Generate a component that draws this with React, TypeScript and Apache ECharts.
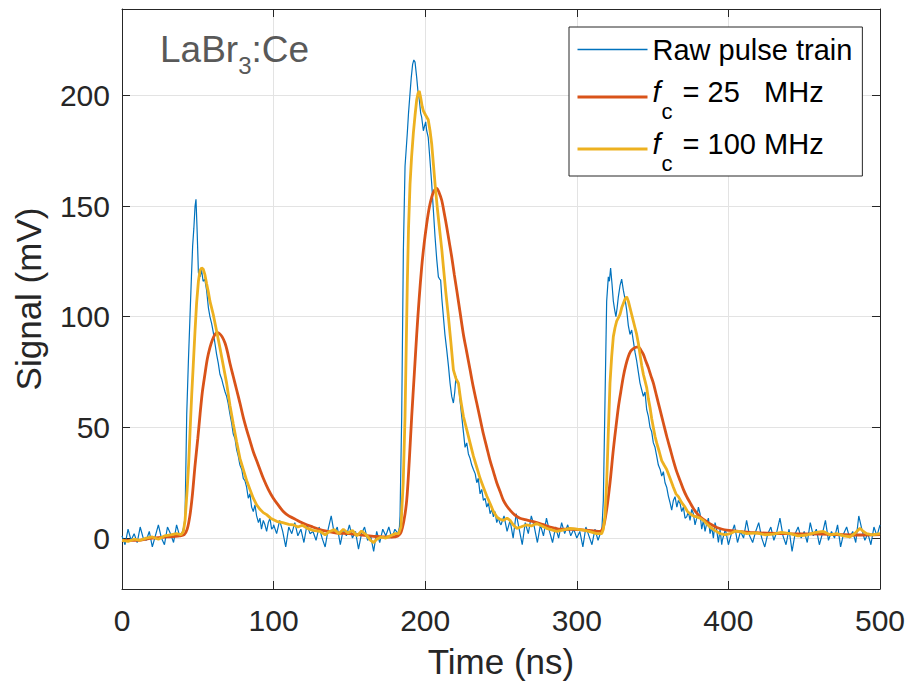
import React, { useEffect, useRef } from 'react';
import * as echarts from 'echarts';

const FONT = '"Liberation Sans", Arial, Helvetica, sans-serif';

const xTickValues = [0, 100, 200, 300, 400, 500];
const yTickValues = [0, 50, 100, 150, 200];
const xRange = [0, 500];
const yRange = [-23, 239];

const seriesNames = ['Raw pulse train', 'fc = 25 MHz', 'fc = 100 MHz'];
const seriesColors = ['#0072BD', '#D95319', '#EDB120'];

// Raw pulse train [time ns, signal mV]
const rawPulse: [number, number][] = [
  [0, 1], [2, -3], [4, 4], [6, -1], [8, 2], [10, -2], [12, 5], [14, 0], [16, -1], [18, 3], [20, -4], [22, 1], [24, 6], [26, 0], [28, -3], [30, 5], [32, 2], [34, -2], [36, 6], [38, 1], [40, 3],
  [41, 6], [41.6, 10], [42.7, 56], [43.8, 80], [44.9, 101], [45.8, 118], [46.6, 132], [47.4, 140], [48.2, 150], [48.8, 153], [49.5, 140], [50.4, 120], [51.5, 118], [52.5, 121], [53.5, 116], [54.6, 117], [55.8, 112], [57, 104], [58, 100], [59.1, 97], [60.2, 93], [61.3, 88], [62.4, 83], [63.5, 79], [64.6, 74], [65.7, 72], [66.8, 69], [68, 66], [69, 64], [70, 61], [71.2, 56], [72.3, 52], [73.4, 47], [74.5, 45], [75.6, 40], [76.7, 37], [77.8, 33], [79, 31], [80, 27], [81.1, 26], [82.2, 23], [83.3, 18], [84.4, 20], [85.5, 14], [86.6, 12], [87.7, 15], [88.8, 10], [90, 7], [91, 9], [92, 4], [93.2, 8], [94.3, 6], [95.4, 3], [96.5, 7], [97.6, 9], [98.7, 4], [99.8, 5],
  [100, 6], [102, 2], [104, 8], [106, 3], [108, -4], [110, 5], [112, 2], [114, 7], [116, 1], [118, 4], [120, -2], [122, 6], [124, 2], [126, 3], [128, -1], [130, 5], [132, 0], [134, -4], [136, 4], [138, 10], [140, 2], [142, 5], [144, -3], [146, 4], [148, 1], [150, 6], [152, 0], [154, 3], [156, -5], [158, 2], [160, 5], [162, -1], [164, 1], [166, -6], [168, 3], [170, -2], [172, 4], [174, 1], [176, 5], [178, 0], [180, 4], [182, 2],
  [183, 5], [183.4, 10], [184.5, 55], [185.6, 130], [186.7, 168], [188.2, 183], [189, 192], [190, 201], [190.8, 208], [191.7, 214], [192.5, 216], [193.3, 215], [194.4, 208], [195.2, 202], [196.1, 198], [197, 192], [197.7, 190], [198.8, 184], [199.5, 186], [200.3, 188], [201, 184], [202, 181], [203, 172], [204.3, 160], [205.4, 148], [206.5, 136], [207.6, 126], [208.7, 118], [209.5, 117], [210.2, 116.5], [211, 108], [212, 100], [213, 92], [214.2, 85], [215.3, 78], [216.4, 70], [217.5, 64], [218.6, 61], [219.5, 66], [220.3, 73], [221.1, 70], [221.9, 70], [223, 62], [224.1, 55], [225.2, 48], [226.3, 41], [227.4, 43], [228.5, 38], [229.6, 36], [230.7, 33], [231.8, 31], [233, 29], [234, 25], [235, 27], [236.2, 20], [237.3, 22], [238.4, 17], [239.5, 18], [240.6, 14], [241.7, 16], [242.8, 11], [244, 13], [245, 9.6], [246, 12], [247.2, 7], [248.3, 9], [249.4, 6.6],
  [250, 6], [252, 10], [254, 3], [256, 8], [258, 0], [260, 11], [262, 4], [264, -3], [266, 7], [268, 2], [270, 10], [272, 5], [274, -2], [276, 6], [278, 1], [280, 9], [282, 3], [284, -2], [286, 5], [288, 0], [290, 7], [292, 2], [294, 6], [296, 1], [298, 4], [300, 0], [302, 3], [304, -4], [306, 5], [308, 1], [310, -3], [312, 4], [314, -1], [316, 3],
  [316.4, 2], [317.5, 17], [318.6, 62], [319.7, 107], [320.8, 118], [321.5, 116], [322.3, 122], [323.2, 115], [324.1, 107], [325, 103], [325.8, 100], [326.6, 104], [327.4, 109], [328.5, 114], [329.6, 117], [330.7, 112], [331.8, 108], [332.9, 103], [334, 96], [335.1, 92], [336.2, 94], [337.3, 89], [338.4, 84], [339.5, 80], [340.6, 75], [341.7, 70], [342.8, 67], [343.9, 64], [345, 66], [346.1, 58], [347.2, 55], [348.3, 50], [349.4, 48], [350.5, 43], [351.6, 41], [352.7, 37], [353.8, 33], [355, 31], [356, 28], [357.1, 30], [358.2, 25], [359.3, 23], [360.4, 19], [361.5, 16], [362.6, 12.6], [363.7, 17], [364.8, 18.7], [366, 14], [367, 17], [368.1, 15.7], [369.2, 12], [370.3, 14], [371.4, 9], [372.5, 9.6], [373.6, 12], [374.7, 8], [375.8, 13], [376.9, 11], [378, 6], [379.1, 9], [380.2, 14], [381.3, 11], [382.4, 4], [383.5, 8], [384.6, 3], [385.7, 6.6], [386.8, 9], [387.9, 2], [389, 5], [390.1, 0], [391.2, 7], [392.3, 3.6], [393.4, -2], [394.5, 4], [395.6, -3],
  [396, -1], [398, 4], [400, -3], [402, 2], [404, 6], [406, -2], [408, 3], [410, 0], [412, 8], [414, 1], [416, -2], [418, 3], [420, 7], [422, 0], [424, -4], [426, 2], [428, 5], [430, -1], [432, 3], [434, 9], [436, 1], [438, -3], [440, 4], [442, -6], [444, 2], [446, 5], [448, 0], [450, 3], [452, -2], [454, 7], [456, 1], [458, 4], [460, -3], [462, 2], [464, 8], [466, -1], [468, 3], [470, 0], [472, 6], [474, -4], [476, 2], [478, 5], [480, 0], [482, 3], [484, -2], [486, 10], [488, 4], [490, -1], [492, 2], [494, -3], [496, 5], [498, 1], [500, 6],
];

// Filtered, fc = 25 MHz
const filtered25: [number, number][] = [
  [0, -1], [10, -1], [20, 0], [30, 0.5], [38, 1], [41, 1.5], [43, 4], [44.9, 10.6], [46.5, 20], [48.2, 33], [50, 45], [51.5, 56], [53, 66], [54.7, 74], [56.3, 81], [58, 86], [59.6, 89.5], [61.3, 92], [62.8, 92.8], [64.2, 92.4], [66, 91], [68, 88], [69.6, 84], [71.2, 79], [73.4, 73], [75.6, 67], [77.8, 61], [80, 54.5], [82.2, 49], [84.4, 44], [86.6, 39], [88.8, 35], [91, 31], [93.2, 27], [96.5, 22], [99.8, 18], [103, 15], [106.4, 12], [110, 10], [113, 9], [117, 7.5], [121.8, 6], [126, 5], [130.6, 3.8], [136, 3], [141.6, 2.3], [150, 2], [160, 1.2], [166, 0.8], [172, 0.5], [178, 0.5], [182, 1],
  [184, 2.5], [186, 8], [187.8, 17], [189.5, 35], [191.1, 55], [192.8, 74], [194.4, 92], [196, 108], [197.7, 122.5], [199.3, 133], [201, 142], [202.6, 149], [204.3, 154], [206, 157], [207.6, 158], [209.2, 156], [210.9, 152.6], [212.5, 147], [214.2, 140.5], [215.8, 134], [217.5, 127], [219.2, 119], [220.8, 112], [223, 102], [225.2, 92], [227.4, 84], [229.6, 76], [231.8, 68], [234, 61], [236.2, 54], [238.4, 47], [240.6, 41], [242.8, 35], [245, 30], [247.2, 25], [249.4, 21], [251.6, 17], [253.8, 14.5], [256, 12.6], [259, 10.5], [262.5, 9], [266, 8.3], [269.1, 7.8], [272.5, 7.2], [275.7, 6.6], [279, 5.8], [282.3, 5], [285.6, 4.5], [288.9, 4], [293, 4], [297.7, 4], [302, 3.8], [306.5, 3.6], [311, 3.3], [315.3, 3],
  [317.5, 5], [319.5, 12], [321.9, 25], [324.1, 40], [325.8, 50], [327.4, 59], [329, 66], [330.7, 73], [332.3, 78], [334, 82], [335.6, 84.5], [337.3, 85.6], [339, 86.2], [340.6, 86.4], [342.2, 85], [343.9, 83], [345.5, 80], [347.2, 77], [348.8, 73.5], [350.5, 70], [352.7, 64], [354.9, 58], [357.1, 52], [359.3, 46], [361.5, 40.5], [363.7, 35], [365.9, 30], [368.1, 26], [370.3, 22], [372.5, 18.7], [374.7, 16], [376.9, 13.4], [379.1, 11.3], [381.3, 9.6], [383.5, 8.4], [385.7, 7.4], [389, 6], [392.3, 4.8], [396, 4], [398.9, 3.6], [407.6, 3], [418, 2.4], [440, 2], [462, 1.8], [485, 1.4], [500, 1.6],
];

// Filtered, fc = 100 MHz
const filtered100: [number, number][] = [
  [0, -1], [4, -1.5], [8, -0.5], [12, -1], [16, 0], [20, 0.5], [24, -0.5], [28, 1], [32, 1.5], [36, 2], [39, 1.5], [40.5, 3], [41.6, 8], [43, 22], [44, 34], [45, 50], [46, 65], [47, 78], [48.2, 94], [49.2, 106], [50.4, 116], [51.5, 121], [52.5, 122], [53.6, 121.5], [54.7, 119], [55.8, 115], [57, 111], [58, 107], [60.2, 101], [62.4, 93.5], [64.6, 86], [66.8, 78], [69, 70], [71.2, 60], [73.4, 51.5], [75.6, 43.5], [77.8, 36], [80, 31], [82.2, 26], [84.4, 22], [86.6, 18], [88.8, 15], [91, 13], [93.2, 11.5], [95.4, 10.6], [98, 9], [102, 7.6], [106, 7], [110, 6.2], [113, 6], [116, 5], [119, 5.8], [122, 4.5], [126, 3.5], [130.6, 3], [134, 1.5], [137, 3], [140, 3.8], [143, 2], [146, 4], [149, 2.3], [152, 3.5], [155, 1], [158, 3.2], [161, 1.5], [164, -1], [166, -2], [168, -0.5], [171, 0.5], [174, 0], [177, 1], [180, 2], [182.5, 2],
  [184, 5], [185.5, 25], [186.7, 55], [188.2, 115], [189, 140], [190, 160], [191, 172], [192.2, 183], [193.3, 191], [194.4, 198], [195.3, 201], [196.1, 202], [197, 199], [198, 195], [198.8, 193], [200.3, 191], [202, 189], [203.2, 184], [204.3, 178], [205.4, 169], [206.5, 160], [208, 149], [209.8, 137.5], [211, 130], [212, 122.5], [213.6, 111], [215.3, 100], [217, 88], [218.6, 76], [220.3, 72], [221.9, 70], [223.5, 62], [225.2, 55], [227.4, 49], [229.6, 43], [231.8, 37], [234, 32], [236.2, 27], [238.4, 23], [240.6, 19], [242.8, 15.6], [245, 12], [247.2, 9.6], [249.4, 8.5], [251.6, 8], [254, 9], [256, 8], [258, 6], [260.3, 4.4], [263, 5], [266.9, 6], [270, 5.5], [273.5, 6.6], [277, 5.5], [280.1, 4.4], [283, 3.8], [286.7, 3], [290, 3.5], [295.5, 4.4], [300, 4], [304.3, 3.6], [308, 3], [313.1, 2], [316.4, 2],
  [317.5, 4], [318.6, 10], [319.7, 25], [320.8, 48], [321.9, 70], [323, 82], [324.1, 91], [325.2, 95], [326.3, 98], [327.4, 99.5], [328.5, 101], [329.6, 104], [330.7, 106], [331.8, 108], [332.9, 109], [334, 107], [335.1, 104], [336.2, 101], [337.3, 98], [338.4, 95], [339.5, 92], [340.6, 88], [341.7, 83], [342.8, 78], [343.9, 74], [345, 71], [346.1, 68], [347.2, 63], [348.3, 59], [349.4, 54], [350.5, 50], [351.6, 46], [352.7, 43], [354.4, 39], [356, 35], [357.6, 33], [359.3, 31], [361.5, 27], [363.7, 23], [365.4, 20], [367, 18.7], [369.2, 16], [371.4, 14], [373, 12], [374.7, 11], [376.9, 10], [379.1, 9.6], [381.3, 9], [383.5, 8], [385.7, 6.5], [387.9, 5], [391, 3.5], [394.5, 2], [398, 1.5], [401, 2], [404, 3], [407.6, 3], [412, 2], [418.6, 2.4], [424, 1.5], [429.6, 1.8], [435, 2.6], [440.6, 2], [446, 1], [451.6, 1.4], [457, 2.5], [462.6, 3], [467, 1.5], [471.4, 2], [476, 1], [480.2, 0.6], [484, 2.5], [486.8, 4.4], [489, 3], [491.2, 2], [495, 1.5], [500, 2],
];

const AXIS_COLOR = '#262626';
const GRID_COLOR = '#e3e3e3';

export default function App() {
  const ref = useRef<HTMLDivElement>(null);

  useEffect(() => {
    if (!ref.current) return;
    const chart = echarts.init(ref.current, null, { renderer: 'svg' });

    const legendText = { fontSize: 29, fontFamily: FONT, color: '#000' };
    const richLegend = {
      r: { ...legendText, lineHeight: 34, padding: [6, 0, 6, 0] },
      t: { ...legendText, lineHeight: 40, verticalAlign: 'top' },
      it: { ...legendText, lineHeight: 40, verticalAlign: 'top', fontStyle: 'italic' },
      sb: { ...legendText, fontSize: 22, lineHeight: 24, verticalAlign: 'top', padding: [23, 2, 0, 1] },
    };

    const baseXAxis = {
      type: 'value',
      min: xRange[0],
      max: xRange[1],
      interval: 100,
      axisLine: { show: true, onZero: false, lineStyle: { color: AXIS_COLOR, width: 1 } },
      axisTick: { show: true, inside: true, length: 8, lineStyle: { color: AXIS_COLOR, width: 1 } },
    };
    const baseYAxis = {
      type: 'value',
      min: yRange[0],
      max: yRange[1],
      splitNumber: 5,
      axisLine: { show: true, onZero: false, lineStyle: { color: AXIS_COLOR, width: 1 } },
      axisTick: { show: true, inside: true, length: 8, lineStyle: { color: AXIS_COLOR, width: 1 } },
    };
    const isYTick = (v: number) => yTickValues.indexOf(Math.round(v * 1000) / 1000) >= 0;
    const isXTick = (v: number) => xTickValues.indexOf(Math.round(v * 1000) / 1000) >= 0;

    const legendWidths = [1.5, 3, 3];

    chart.setOption({
      animation: false,
      backgroundColor: '#ffffff',
      textStyle: { fontFamily: FONT },
      grid: { left: 122, right: 30, top: 9, bottom: 97, containLabel: false },
      xAxis: [
        {
          ...baseXAxis,
          position: 'bottom',
          name: 'Time (ns)',
          nameLocation: 'middle',
          nameGap: 55,
          nameTextStyle: { fontSize: 35, color: AXIS_COLOR, fontFamily: FONT },
          axisLabel: {
            fontSize: 30, color: AXIS_COLOR, fontFamily: FONT, margin: 16,
            formatter: (v: number) => (isXTick(v) ? String(v) : ''),
          },
          splitLine: { show: true, lineStyle: { color: GRID_COLOR, width: 1 } },
        },
        {
          ...baseXAxis,
          position: 'top',
          axisLabel: { show: false },
          splitLine: { show: false },
        },
      ],
      yAxis: [
        {
          ...baseYAxis,
          position: 'left',
          name: 'Signal (mV)',
          nameLocation: 'middle',
          nameGap: 76,
          nameTextStyle: { fontSize: 35, color: AXIS_COLOR, fontFamily: FONT },
          axisLabel: {
            fontSize: 30, color: AXIS_COLOR, fontFamily: FONT, margin: 12,
            showMinLabel: false, showMaxLabel: false,
            formatter: (v: number) => (isYTick(v) ? String(v) : ''),
          },
          splitLine: { show: true, lineStyle: { color: GRID_COLOR, width: 1 } },
        },
        {
          ...baseYAxis,
          position: 'right',
          axisLabel: { show: false },
          splitLine: { show: false },
        },
      ],
      legend: {
        orient: 'vertical',
        left: 569,
        top: 27,
        padding: [2, 10, 2, 7],
        itemGap: 7,
        itemWidth: 70,
        itemHeight: 4,
        itemStyle: { opacity: 0, borderWidth: 0 },
        borderColor: AXIS_COLOR,
        borderWidth: 1,
        backgroundColor: '#ffffff',
        borderRadius: 0,
        data: seriesNames.map((name, i) => ({
          name,
          lineStyle: { width: legendWidths[i], color: seriesColors[i] },
          itemStyle: { opacity: 0, borderWidth: 0 },
        })),
        textStyle: { ...legendText, rich: richLegend },
        formatter: (name: string) => {
          if (name === seriesNames[0]) return '{r|Raw pulse train}';
          if (name === seriesNames[1]) return '{it|f}{sb|c}{t| = 25   MHz}';
          return '{it|f}{sb|c}{t| = 100 MHz}';
        },
      },
      graphic: [
        {
          type: 'text',
          left: 160,
          top: 31,
          z: 100,
          style: {
            text: '{m|LaBr}{s|3}{m|:Ce}',
            fill: '#595959',
            rich: {
              m: { fontSize: 37, fontFamily: FONT, fill: '#595959', lineHeight: 40, verticalAlign: 'top' },
              s: { fontSize: 24, fontFamily: FONT, fill: '#595959', lineHeight: 24, verticalAlign: 'top', padding: [22, 0, 0, 0] },
            },
          },
        },
      ],
      series: [
        {
          name: seriesNames[0],
          type: 'line',
          data: rawPulse,
          showSymbol: false,
          symbol: 'none',
          clip: true,
          lineStyle: { color: seriesColors[0], width: 1.2 },
          itemStyle: { color: seriesColors[0] },
          z: 2,
        },
        {
          name: seriesNames[1],
          type: 'line',
          data: filtered25,
          showSymbol: false,
          symbol: 'none',
          smooth: 0.3,
          clip: true,
          lineStyle: { color: seriesColors[1], width: 2.8 },
          itemStyle: { color: seriesColors[1] },
          z: 3,
        },
        {
          name: seriesNames[2],
          type: 'line',
          data: filtered100,
          showSymbol: false,
          symbol: 'none',
          clip: true,
          lineStyle: { color: seriesColors[2], width: 2.8 },
          itemStyle: { color: seriesColors[2] },
          z: 4,
        },
      ],
    });

    return () => chart.dispose();
  }, []);

  return (
    <div
      ref={ref}
      style={{ position: 'fixed', left: 0, top: 0, width: 910, height: 686, background: '#fff' }}
    />
  );
}
